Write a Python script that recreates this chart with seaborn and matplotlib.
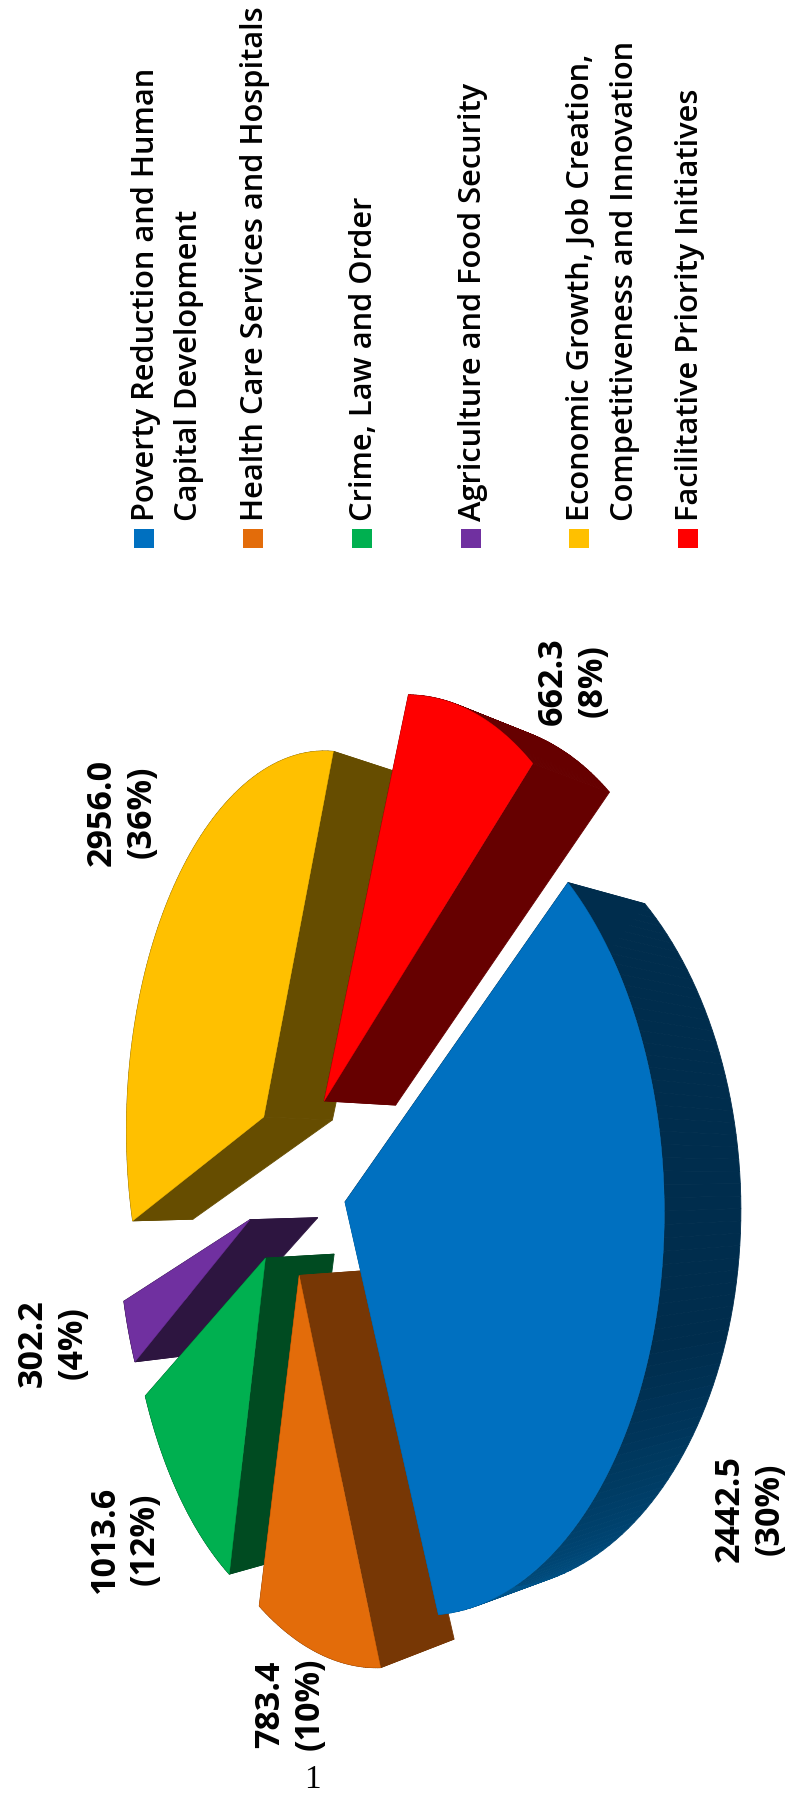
import numpy as np
import matplotlib
matplotlib.use('Agg')
import matplotlib.pyplot as plt
import seaborn as sns

categories = ['Poverty Reduction and Human\nCapital Development',
              'Health Care Services and Hospitals',
              'Crime, Law and Order',
              'Agriculture and Food Security',
              'Economic Growth, Job Creation,\nCompetitiveness and Innovation',
              'Facilitative Priority Initiatives']
values = [2442.5, 783.4, 1013.6, 302.2, 2956.0, 662.3]

face_colors = ['#0070C0', '#E36C0A', '#00B050', '#7030A0', '#FFC000', '#FF0000']
side_colors = ['#002D4D', '#773705', '#004B21', '#2D1540', '#664D00', '#660000']
blue_side_end = '#00578F'

# exploded distance of each slice, in pie radii
explode = [0.25, 0.267, 0.281, 0.28, 0.245, 0.25]
draw_order = [4, 5, 3, 2, 1, 0]
start_angle = -39.7

# perspective of the tilted pie (page is turned 90 degrees)
X0, Y0 = 295, 1178
SCALE_X, SCALE_Y = 192, 364
PERSP = 0.285
DEPTH_X, DEPTH_Q = 74, 0.055

label_x = [750, 290, 125, 53, 122, 573]
label_y = [1509, 1704, 1539, 1343, 812, 681]
legend_base = [154, 263, 372, 481, 589, 698]


def project(u, v, low=False):
    d = 1 - PERSP * u
    if low:
        return X0 + (SCALE_X * u + DEPTH_X) / (d + DEPTH_Q), Y0 + SCALE_Y * v / (d + DEPTH_Q)
    return X0 + SCALE_X * u / d, Y0 + SCALE_Y * v / d


def wedge_outline(a0, a1, offset):
    mid = np.radians((a0 + a1) / 2)
    cx, cy = offset * np.cos(mid), offset * np.sin(mid)
    t = np.radians(np.linspace(a0, a1, 80))
    u = np.concatenate([[cx], cx + np.cos(t), [cx]])
    v = np.concatenate([[cy], cy + np.sin(t), [cy]])
    return u, v


sns.set_theme(style='white')
plt.rcParams['font.family'] = ['Open Sans', 'DejaVu Sans']

fig = plt.figure(figsize=(7.9, 18.02), dpi=100)
ax = fig.add_axes([0, 0, 1, 1])
ax.set_xlim(0, 790)
ax.set_ylim(1802, 0)
ax.axis('off')

total = sum(values)
sweep = np.array(values) / total * 360
starts = start_angle + np.concatenate([[0], np.cumsum(sweep)[:-1]])

for i in draw_order:
    u, v = wedge_outline(starts[i], starts[i] + sweep[i], explode[i])
    xt, yt = project(u, v)
    xl, yl = project(u, v, low=True)
    n = len(u) - 1
    if i == 0:
        shades = sns.blend_palette([side_colors[0], side_colors[0], blue_side_end], n)
    else:
        shades = [side_colors[i]] * n
    for k in range(n):
        ax.fill([xt[k], xt[k + 1], xl[k + 1], xl[k]], [yt[k], yt[k + 1], yl[k + 1], yl[k]],
                color=shades[k], lw=0.6)
    ax.fill(xt, yt, color=face_colors[i], lw=0.3)

for i, v in enumerate(values):
    ax.text(label_x[i], label_y[i], f'{v:.1f}\n({round(v / total * 100)}%)', rotation=90,
            ha='center', va='center', multialignment='center', fontsize=24.5, fontweight='bold',
            linespacing=1.22, color='black')

for i, name in enumerate(categories):
    ax.add_patch(plt.Rectangle((legend_base[i] - 20, 529), 20, 19, color=face_colors[i], lw=0))
    for j, line in enumerate(name.split('\n')):
        ax.text(legend_base[i] + j * 43.5, 521, line, rotation=90, rotation_mode='anchor',
                ha='left', va='baseline', fontsize=22.2, fontweight='semibold', color='black')

ax.text(312, 1780, '1', family='Liberation Serif', fontsize=24, ha='center', va='center', color='black')

fig.savefig('out.png', dpi=100)
